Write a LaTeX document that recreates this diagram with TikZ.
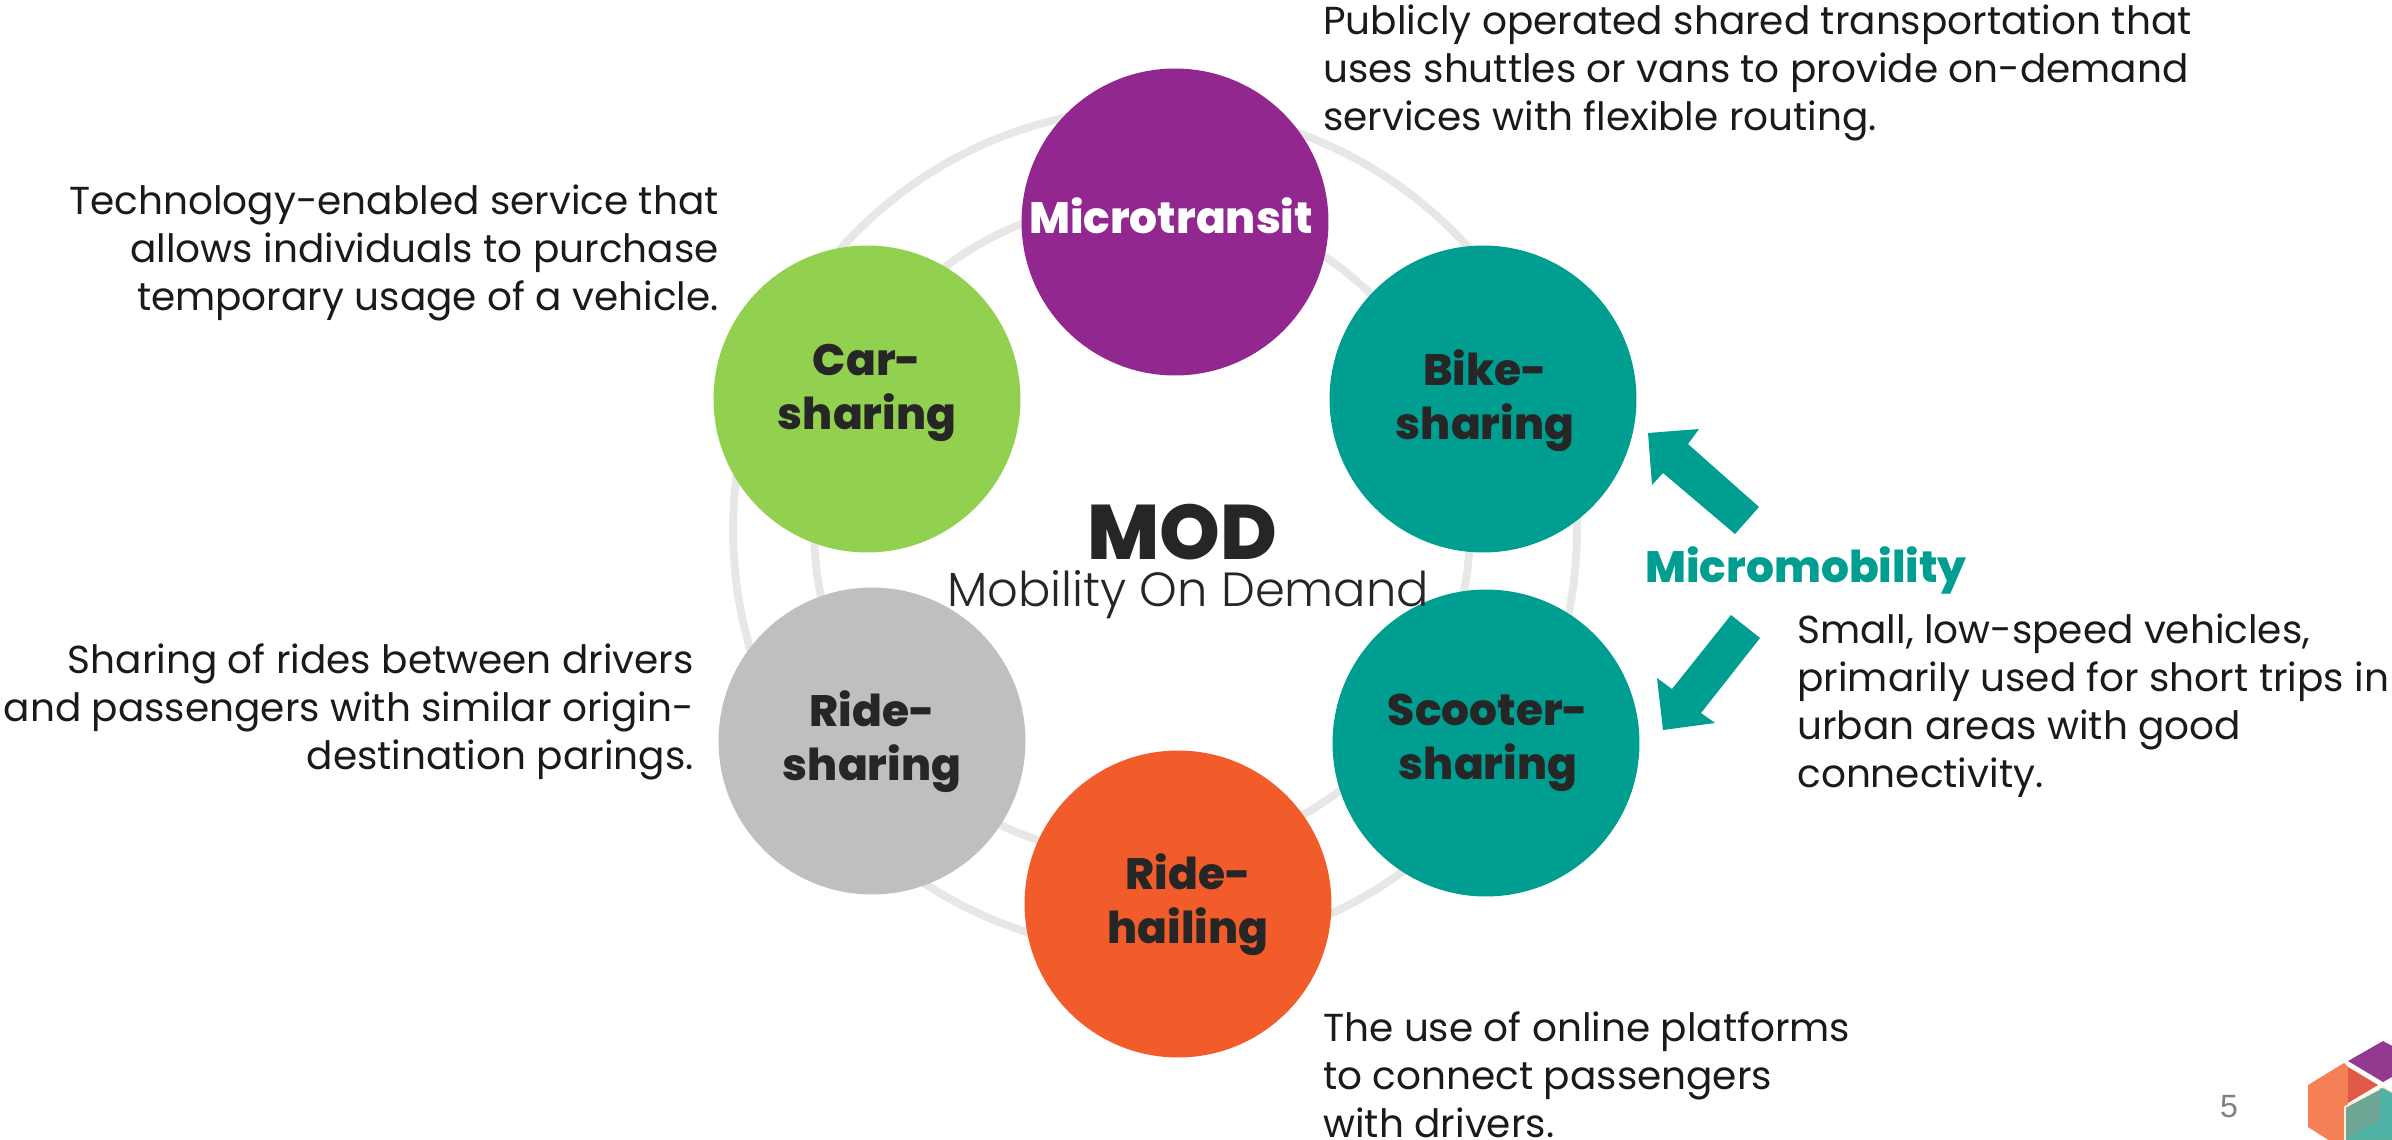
\documentclass[tikz,border=0pt]{standalone}
\usepackage{fontspec}
\setmainfont{Poppins}[BoldFont={Poppins ExtraBold}]
\setsansfont{Liberation Sans}
\newfontfamily\plight{Poppins Light}
\definecolor{ringc}{HTML}{E7E7E7}
\definecolor{purp}{HTML}{92278F}
\definecolor{lime}{HTML}{92D050}
\definecolor{tealc}{HTML}{009E91}
\definecolor{greyc}{HTML}{BFBFBF}
\definecolor{orng}{HTML}{F25C2B}
\definecolor{ink}{HTML}{262626}
\definecolor{body}{HTML}{1A1A1A}
\definecolor{logoO}{HTML}{F58055}
\definecolor{logoR}{HTML}{E05A4A}
\definecolor{logoP}{HTML}{933A90}
\definecolor{logoG}{HTML}{6FA594}
\definecolor{logoT}{HTML}{50B3A8}
\tikzset{
 disc/.style={circle,minimum size=6.14cm,inner sep=0pt},
 lbl/.style={inner sep=0pt,align=center,text=ink,font=\fontsize{25}{30.7}\selectfont\bfseries},
 desc/.style={inner sep=0pt,text=body,font=\fontsize{22.2}{27.3}\selectfont},
 ring/.style={draw=ringc,line width=4.5pt},
}
\begin{document}
\begin{tikzpicture}[x=0.02cm,y=-0.02cm]
\useasboundingbox (0,0) rectangle (2392,1139);
\coordinate (hubo) at (1155,530);
\coordinate (hubi) at (1142,529);
\draw[ring] (hubo) circle[radius=8.44cm];
\draw[ring] (hubi) circle[radius=6.56cm];
\node[disc,fill=purp] (micro) at (1175,222) {};
\node[disc,fill=lime] (car) at (867,399) {};
\node[disc,fill=tealc] (bike) at (1483,399) {};
\node[disc,fill=tealc] (scoot) at (1486,743) {};
\node[disc,fill=greyc] (rides) at (872,741) {};
\node[disc,fill=orng] (hail) at (1178,904) {};
\node[lbl,text=white] (microl) at (1171,216) {Microtransit};
\node[lbl] (carl) at (867,393) {Car-\\sharing};
\node[lbl] (bikel) at (1485,401) {Bike-\\sharing};
\node[lbl] (scootl) at (1488,743) {Scooter-\\sharing};
\node[lbl] (ridesl) at (872,742) {Ride-\\sharing};
\node[lbl] (haill) at (1188,905) {Ride-\\hailing};
\node[anchor=base,inner sep=0pt,text=ink,font=\fontsize{44}{44}\selectfont\bfseries] (mod) at (1182,559) {MOD};
\node[anchor=base,inner sep=0pt,text=ink,font=\fontsize{27.3}{27}\selectfont\plight] (modsub) at (1188,606) {Mobility On Demand};
\node[desc,anchor=west,align=left] (d1) at (1323,73) {Publicly operated shared transportation that\\uses shuttles or vans to provide on-demand\\services with flexible routing.};
\node[desc,anchor=east,align=right] (d2) at (719,253) {Technology-enabled service that\\allows individuals to purchase\\temporary usage of a vehicle.};
\node[desc,anchor=east,align=right] (d3) at (694,712) {Sharing of rides between drivers\\and passengers with similar origin-\\destination parings.};
\node[desc,anchor=west,align=left] (d4) at (1323,1075) {The use of online platforms\\to connect passengers\\with drivers.};
\node[desc,anchor=west,align=left] (d5) at (1797,706) {Small, low-speed vehicles,\\primarily used for short trips in\\urban areas with good\\connectivity.};
\node[anchor=base west,inner sep=0pt,text=tealc,font=\fontsize{25}{25}\selectfont\bfseries] (mm) at (1645,582) {Micromobility};
\fill[tealc] (1648,433) -- (1699,429) -- (1688,444) -- (1759,507) -- (1735,534) -- (1663,473) -- (1652,485) -- cycle;
\fill[tealc] (1663,730) -- (1657,678) -- (1672,689) -- (1731,615) -- (1760,638) -- (1701,713) -- (1715,723) -- cycle;
\node[anchor=base,inner sep=0pt,text=gray,font=\sffamily\fontsize{18.3}{18.3}\selectfont] (pg) at (2229,1117) {5};
\begin{scope}
\clip (0,0) rectangle (2392,1139);
\fill[logoO] (2344,1063) -- (2308,1085) -- (2308,1127) -- (2344,1150) -- (2348,1103) -- (2348,1067) -- cycle;
\fill[logoR] (2348,1067) -- (2378,1085) -- (2348,1103) -- cycle;
\fill[logoP] (2348,1061) -- (2383,1041) -- (2420,1061) -- (2383,1082) -- cycle;
\fill[logoG,draw=orange!15,line width=1pt] (2345,1107) -- (2383,1087) -- (2420,1107) -- (2420,1160) -- (2345,1160) -- cycle;
\fill[logoT] (2380,1088) -- (2392,1094) -- (2392,1113) -- (2380,1120) -- cycle;
\fill[logoT] (2346,1139) -- (2392,1113) -- (2392,1139) -- cycle;
\end{scope}
\end{tikzpicture}
\end{document}
